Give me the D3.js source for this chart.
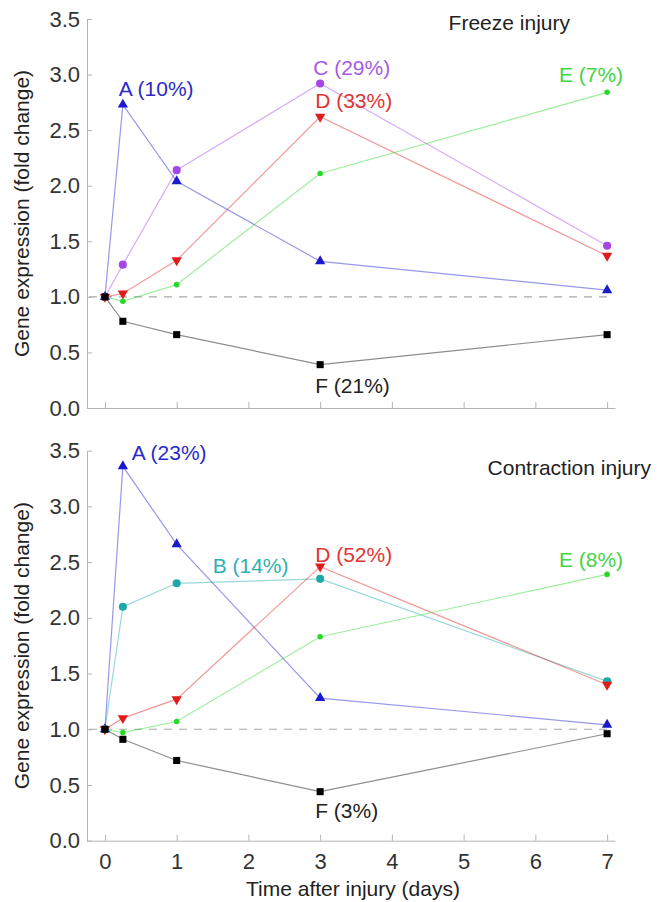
<!DOCTYPE html>
<html>
<head>
<meta charset="utf-8">
<script src="https://cdn.jsdelivr.net/npm/d3@7"></script>
<style>
  body { margin: 0; background: #fff; }
  svg text { font-family: "Liberation Sans", Arial, sans-serif; }
</style>
</head>
<body>
<div id="chart"></div>
<script>
// sampling times (days after injury)
const days = [0, 0.25, 1, 3, 7];
const xTicks = [0, 1, 2, 3, 4, 5, 6, 7];
const yTicks = [0, 0.5, 1, 1.5, 2, 2.5, 3, 3.5];

// freeze injury clusters
const freezeA = [1.0, 2.73, 2.04, 1.32, 1.06];
const freezeC = [1.0, 1.29, 2.14, 2.92, 1.46];
const freezeD = [1.0, 1.03, 1.33, 2.62, 1.37];
const freezeE = [1.0, 0.96, 1.11, 2.11, 2.84];
const freezeF = [1.0, 0.78, 0.66, 0.39, 0.66];

// contraction injury clusters
const contrA = [1.0, 3.36, 2.66, 1.28, 1.04];
const contrB = [1.0, 2.10, 2.31, 2.35, 1.43];
const contrD = [1.0, 1.10, 1.27, 2.46, 1.40];
const contrE = [1.0, 0.97, 1.07, 1.83, 2.39];
const contrF = [1.0, 0.91, 0.72, 0.44, 0.96];

const freezeLabels = ["A (10%)", "C (29%)", "D (33%)", "E (7%)", "F (21%)"];
const contrLabels = ["A (23%)", "B (14%)", "D (52%)", "E (8%)", "F (3%)"];

const width = 666, height = 902;

// cluster styles
const style = {
  A: { color: "#1a1acc", text: "#2a2ac8", shape: "up", size: 46 },
  B: { color: "#20a8a8", text: "#2eb0b0", shape: "circle", size: 52 },
  C: { color: "#a546e6", text: "#a85ae6", shape: "circle", size: 52 },
  D: { color: "#e01c1c", text: "#e03434", shape: "down", size: 46 },
  E: { color: "#28d828", text: "#44d444", shape: "circle", size: 24 },
  F: { color: "#000000", text: "#222222", shape: "square", size: 50 }
};

const svg = d3.select("#chart").append("svg")
  .attr("width", width)
  .attr("height", height);

const x = d3.scaleLinear().domain([-0.25, 7.11]).range([87, 615]);

function panel(y0, y1, title, titleY, series, labelPos, showX) {
  const y = d3.scaleLinear().domain([0, 3.5]).range([y0, y1]);
  const g = svg.append("g");

  // axes
  const xa = g.append("g")
    .attr("transform", "translate(0," + y0 + ")")
    .call(d3.axisBottom(x).tickValues(xTicks).tickSizeInner(-6).tickSizeOuter(0)
      .tickPadding(13).tickFormat(showX ? d3.format("d") : ""));
  const ya = g.append("g")
    .attr("transform", "translate(87,0)")
    .call(d3.axisLeft(y).tickValues(yTicks).tickSizeInner(-5).tickSizeOuter(0)
      .tickPadding(7).tickFormat(d3.format(".1f")));
  [xa, ya].forEach(a => {
    a.selectAll("path, line").attr("stroke", "#b4b4b4");
    a.selectAll("text").attr("fill", "#333").style("font-size", "22px");
  });

  // baseline at fold change 1
  g.append("line")
    .attr("x1", 89).attr("x2", 614)
    .attr("y1", y(1)).attr("y2", y(1))
    .attr("stroke", "#a8a8a8")
    .attr("stroke-width", 1.2)
    .attr("stroke-dasharray", "8,7");

  const line = d3.line().x((d, i) => x(days[i])).y(d => y(d));

  series.forEach(s => {
    g.append("path")
      .datum(s.values)
      .attr("d", line)
      .attr("fill", "none")
      .attr("stroke", style[s.key].color)
      .attr("stroke-opacity", 0.45)
      .attr("stroke-width", 1.2);
  });

  series.forEach(s => {
    const st = style[s.key];
    let sym = d3.symbolCircle;
    if (st.shape == "up" || st.shape == "down") sym = d3.symbolTriangle;
    if (st.shape == "square") sym = d3.symbolSquare;
    g.selectAll(null)
      .data(s.values)
      .enter()
      .append("path")
      .attr("d", d3.symbol().type(sym).size(st.size))
      .attr("transform", (d, i) => "translate(" + x(days[i]) + "," + y(d) + ")" + (st.shape == "down" ? " rotate(180)" : ""))
      .attr("fill", st.color);
  });

  // cluster labels, anchored to one point of their series
  series.forEach((s, k) => {
    const p = labelPos[k];
    g.append("text")
      .attr("x", x(days[p.i]) + p.dx)
      .attr("y", y(s.values[p.i]) + p.dy)
      .attr("text-anchor", p.end ? "end" : "start")
      .attr("fill", style[s.key].text)
      .style("font-size", "21px")
      .text(s.label);
  });

  g.append("text")
    .attr("x", 570).attr("y", titleY)
    .attr("text-anchor", "end")
    .attr("fill", "#222")
    .style("font-size", "21px")
    .text(title);

  g.append("text")
    .attr("transform", "translate(29," + (y0 + y1) / 2 + ") rotate(-90)")
    .attr("text-anchor", "middle")
    .attr("fill", "#222")
    .style("font-size", "21px")
    .text("Gene expression (fold change)");
}

panel(408, 19, "Freeze injury", 30, [
  { key: "A", values: freezeA, label: freezeLabels[0] },
  { key: "C", values: freezeC, label: freezeLabels[1] },
  { key: "D", values: freezeD, label: freezeLabels[2] },
  { key: "E", values: freezeE, label: freezeLabels[3] },
  { key: "F", values: freezeF, label: freezeLabels[4] }
], [
  { i: 1, dx: -4, dy: -9 },
  { i: 3, dx: -7, dy: -8 },
  { i: 3, dx: -5, dy: -9 },
  { i: 4, dx: 16, dy: -10, end: true },
  { i: 3, dx: -5, dy: 28 }
], false);

panel(840.7, 450.7, "Contraction injury", 475, [
  { key: "A", values: contrA, label: contrLabels[0] },
  { key: "B", values: contrB, label: contrLabels[1] },
  { key: "D", values: contrD, label: contrLabels[2] },
  { key: "E", values: contrE, label: contrLabels[3] },
  { key: "F", values: contrF, label: contrLabels[4] }
], [
  { i: 1, dx: 9, dy: -6 },
  { i: 2, dx: 36, dy: -10 },
  { i: 3, dx: -5, dy: -5 },
  { i: 4, dx: 16, dy: -7, end: true },
  { i: 3, dx: -5, dy: 26 }
], true);

// contraction title sits further right than the freeze one
svg.selectAll("text").filter(function() { return d3.select(this).text() == "Contraction injury"; })
  .attr("x", 651);

svg.append("text")
  .attr("x", 353).attr("y", 896)
  .attr("text-anchor", "middle")
  .attr("fill", "#222")
  .style("font-size", "21px")
  .text("Time after injury (days)");
</script>
</body>
</html>
